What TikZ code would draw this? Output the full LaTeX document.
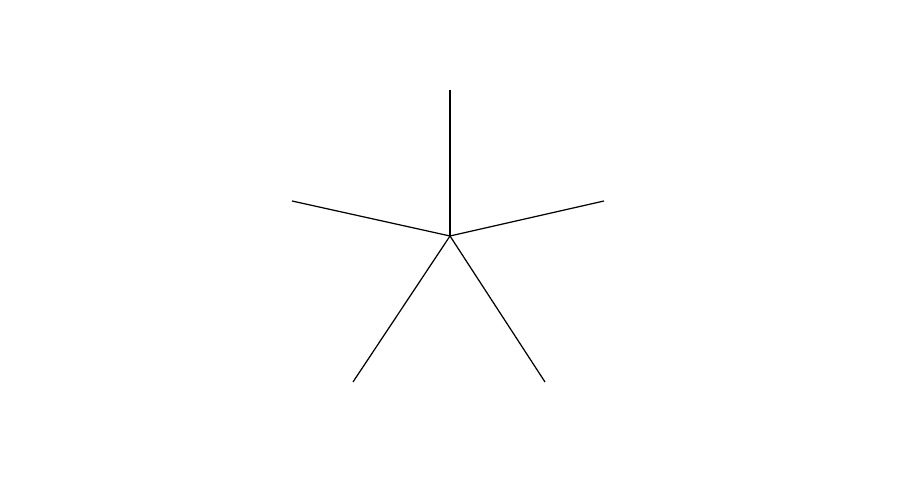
\documentclass[tikz,border=0pt]{standalone}
\usepackage{xcolor}
\usepackage{tikz}
\usetikzlibrary{calc}

\begin{document}
\begin{tikzpicture}[
    x=1cm, y=1cm,
    spoke/.style={draw=black, line width=0.35pt}
]
    % Frame of the page (900 x 500)
    \useasboundingbox (0,0) rectangle (9,5);

    % Hub and tips
    \coordinate (hub)   at (4.50, 2.64);
    \coordinate (top)   at (4.50, 4.10);
    \coordinate (left)  at (2.92, 2.99);
    \coordinate (right) at (6.04, 2.99);
    \coordinate (botl)  at (3.53, 1.18);
    \coordinate (botr)  at (5.45, 1.18);

    % Spokes
    \draw [spoke] (hub) -- (top);
    \draw [spoke] (hub) -- (left);
    \draw [spoke] (hub) -- (right);
    \draw [spoke] (hub) -- (botl);
    \draw [spoke] (hub) -- (botr);

\end{tikzpicture}
\end{document}
